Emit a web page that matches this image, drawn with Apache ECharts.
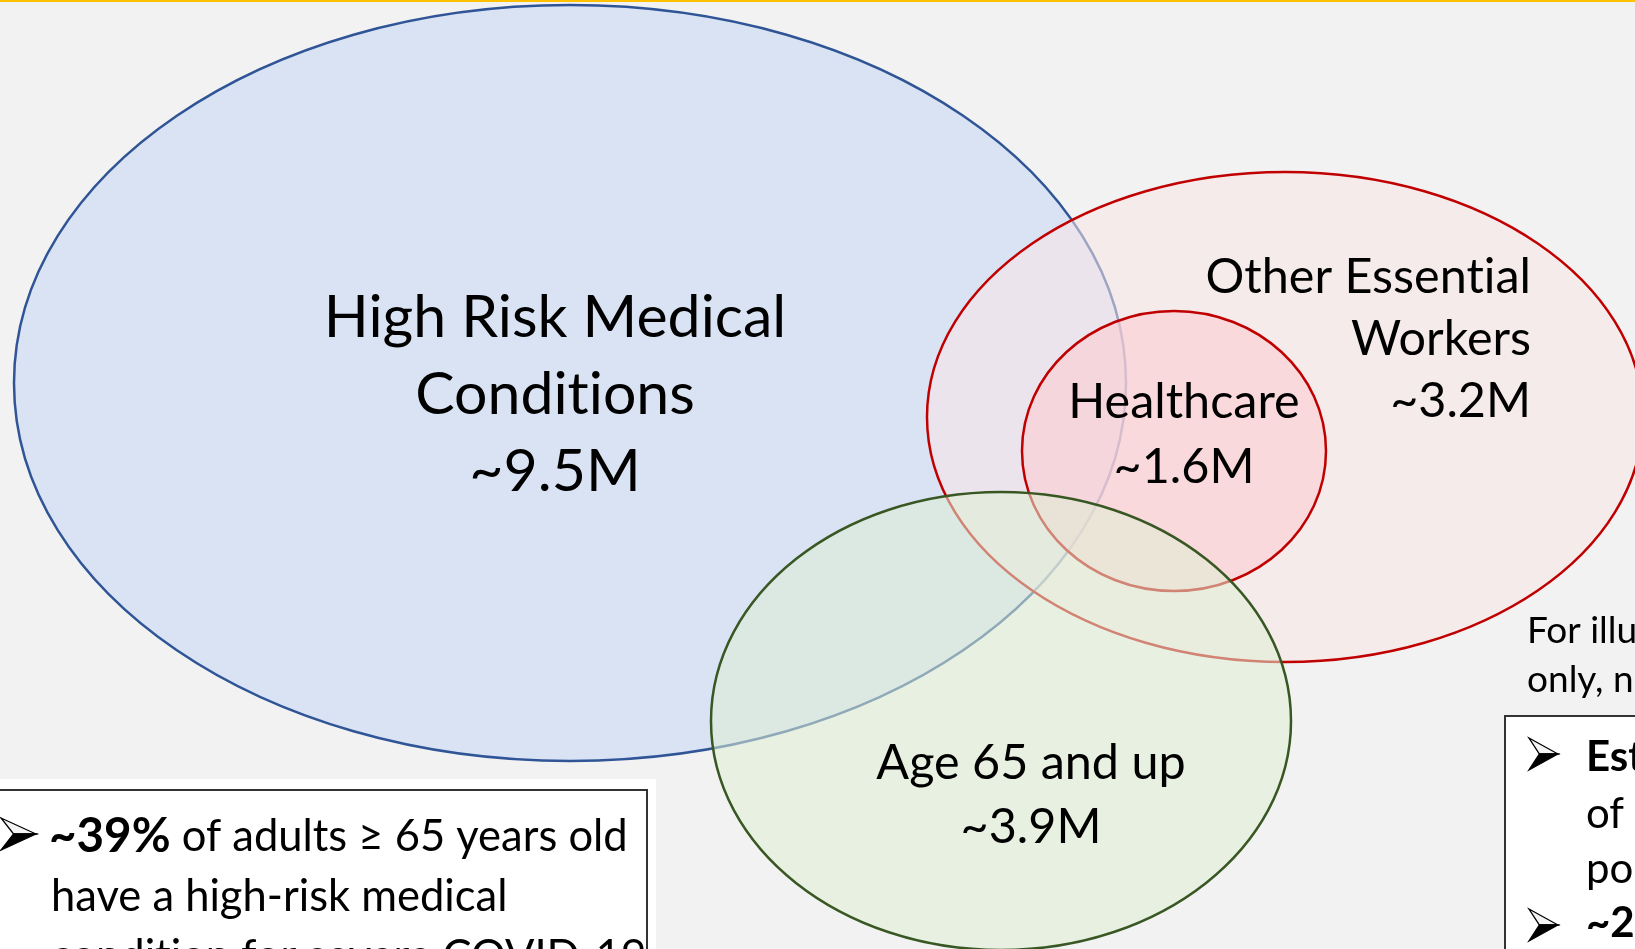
<!DOCTYPE html>
<html><head><meta charset="utf-8">
<script src="https://cdn.jsdelivr.net/npm/echarts@6/dist/echarts.min.js"></script>
<style>html,body{margin:0;padding:0;background:#f2f2f2;overflow:hidden}#c{width:1635px;height:949px}</style>
</head><body><div id="c"></div>
<script>
// ---- data ----
const groups = ['High Risk Medical\nConditions', 'Other Essential\nWorkers', 'Healthcare', 'Age 65 and up'];
const groupValues = ['~9.5M', '~3.2M', '~1.6M', '~3.9M'];
// ellipse geometry in diagram units (illustrative, not to scale)
const ellipseCx = [570, 1285, 1174, 1001];
const ellipseCy = [383, 417, 451, 721];
const ellipseRx = [556, 358, 152, 290];
const ellipseRy = [378, 245, 140, 229];
// label anchors in diagram units (first baseline)
const labelX = [555, 1531, 1184, 1031];
const labelY = [336, 292, 417, 778];

// ---- styles ----
const FONT = 'Lato, "Open Sans", sans-serif';
const styles = [
  {fill: '#dae3f3', stroke: '#2f5597'},
  {fill: 'rgba(250,230,230,0.55)', stroke: '#c00000'},
  {fill: 'rgba(252,205,210,0.6)', stroke: '#c00000'},
  {fill: 'rgba(222,238,212,0.55)', stroke: '#385723'}
];
const labelStyle = [
  {align: 'center', gap: 77, size: 59},
  {align: 'right', gap: 62, size: 48.5},
  {align: 'center', gap: 65, size: 48.5},
  {align: 'center', gap: 64, size: 48.5}
];

// break the Lato "ti" ligature so glyphs look like the original typeface
function noLig(s) { return s.replace(/t(?=i)/g, 't\u200C').replace(/f(?=[il])/g, 'f\u200C'); }

const chart = echarts.init(document.getElementById('c'), null, {renderer: 'canvas'});

function txt(text, x, baseline, size, opts) {
  opts = opts || {};
  return {
    type: 'text', z: 100,
    style: Object.assign({
      text: noLig(text), x: x, y: baseline - 0.31 * size,
      fontFamily: FONT, fontSize: size, fontWeight: opts.bold ? 'bold' : 'normal',
      fill: '#000', textAlign: opts.align || 'left', textVerticalAlign: 'middle'
    }, opts.extra || {})
  };
}
// 3-D style bullet arrowhead: light upper half, black lower half
function arrow(x, y, w, h) {
  const tip = [x + w, y + h / 2], notch = [x + w * 0.36, y + h / 2];
  return {
    type: 'group', z: 100, children: [
      {type: 'polygon', z: 100, shape: {points: [[x, y], tip, notch]},
        style: {fill: '#f4f4f4', stroke: '#000', lineWidth: 1.3, lineJoin: 'miter'}},
      {type: 'polygon', z: 100, shape: {points: [notch, tip, [x, y + h]]},
        style: {fill: '#000', stroke: '#000', lineWidth: 1.3, lineJoin: 'miter'}}
    ]
  };
}

const boxSize = 43.5;
const rightSize = 42;
const capSize = 37;

const graphics = [
  {type: 'rect', z: 50, shape: {x: 0, y: 0, width: 1635, height: 2}, style: {fill: '#ffc000'}},
  // bottom-left note box
  {type: 'rect', z: 50, shape: {x: -5, y: 779, width: 661, height: 200}, style: {fill: '#ffffff'}},
  {type: 'rect', z: 51, shape: {x: -10, y: 790, width: 657, height: 200}, style: {fill: '#ffffff', stroke: '#333333', lineWidth: 2}},
  arrow(1, 818, 35, 32),
  {type: 'text', z: 100, style: {
    text: '{b|~39%} of adults ≥ 65 years old', x: 49, y: 850 - 0.31 * boxSize,
    fontFamily: FONT, fontSize: boxSize, fill: '#000', textAlign: 'left', textVerticalAlign: 'middle',
    rich: {b: {fontFamily: FONT, fontSize: boxSize + 4, fontWeight: 'bold', fill: '#000'}}
  }},
  txt('have a high-risk medical', 51, 910, boxSize),
  txt('condition for severe COVID-19', 51, 970, boxSize),
  // caption
  txt('For illustrative purposes', 1527, 643, capSize),
  txt('only, not to scale', 1527, 692, capSize),
  // bottom-right note box
  {type: 'rect', z: 51, shape: {x: 1505, y: 716, width: 300, height: 300}, style: {fill: '#ffffff', stroke: '#333333', lineWidth: 2}},
  arrow(1529, 738, 29, 32),
  txt('Estimated', 1586, 770, rightSize, {bold: true}),
  txt('of the', 1586, 827, rightSize),
  txt('population', 1586, 882, rightSize),
  arrow(1529, 909, 29, 32),
  txt('~2', 1586, 936, rightSize, {bold: true})
];

const option = {
  backgroundColor: '#f2f2f2',
  animation: false,
  grid: {left: 0, right: 0, top: 0, bottom: 0},
  xAxis: {type: 'value', min: 0, max: 1635, show: false},
  yAxis: {type: 'value', min: 0, max: 949, inverse: true, show: false},
  series: [
    {
      type: 'custom', coordinateSystem: 'cartesian2d', silent: true, z: 2,
      encode: {x: 0, y: 1},
      data: groups.map((g, i) => [ellipseCx[i], ellipseCy[i], ellipseRx[i], ellipseRy[i], i]),
      renderItem: function (params, api) {
        const c = api.coord([api.value(0), api.value(1)]);
        const s = api.size([api.value(2), api.value(3)]);
        const st = styles[api.value(4)];
        return {type: 'ellipse', shape: {cx: c[0], cy: c[1], rx: s[0], ry: s[1]},
          style: {fill: st.fill, stroke: st.stroke, lineWidth: 2.5}};
      }
    },
    {
      type: 'custom', coordinateSystem: 'cartesian2d', silent: true, z: 10,
      encode: {x: 0, y: 1},
      data: groups.map((g, i) => [labelX[i], labelY[i], i]),
      renderItem: function (params, api) {
        const i = api.value(2);
        const p = api.coord([api.value(0), api.value(1)]);
        const ls = labelStyle[i];
        const lines = groups[i].split('\n').concat([groupValues[i]]);
        return {
          type: 'group',
          children: lines.map((t, k) => ({
            type: 'text',
            style: {
              text: noLig(t), x: p[0], y: p[1] + k * ls.gap - 0.31 * ls.size,
              fontFamily: FONT, fontSize: ls.size, fill: '#000',
              textAlign: ls.align, textVerticalAlign: 'middle'
            }
          }))
        };
      }
    }
  ],
  graphic: graphics
};
chart.setOption(option);
</script>
</body></html>
